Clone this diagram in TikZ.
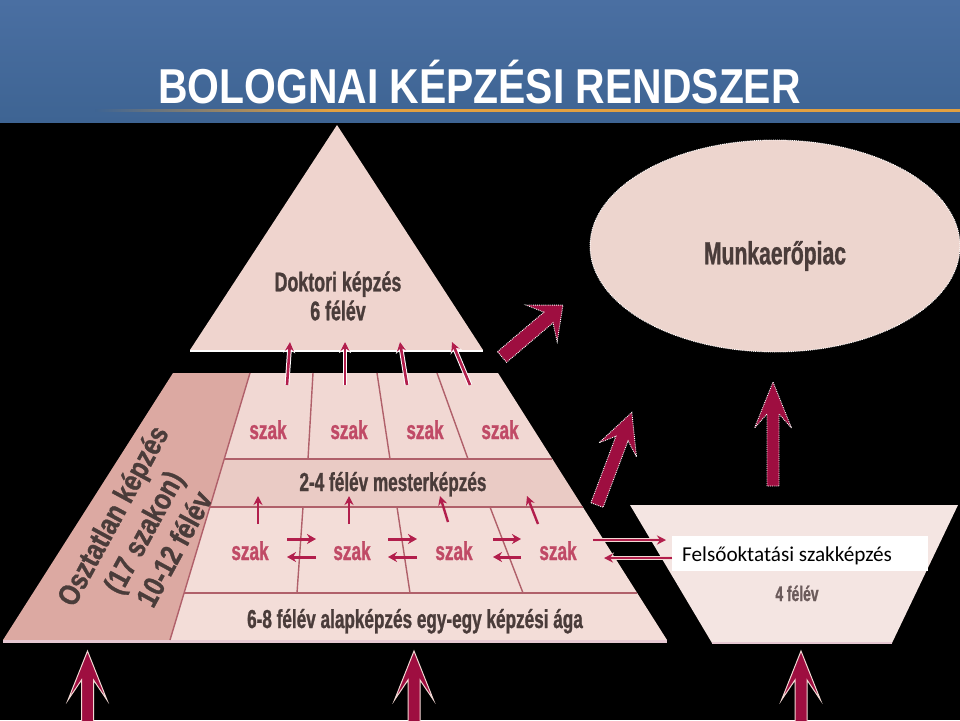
\documentclass[tikz,border=0pt]{standalone}
\usepackage{fontspec}
\setmainfont{Liberation Sans}
\newfontfamily\condf[FakeStretch=0.66, FakeBold=1]{Liberation Sans}
\newfontfamily\condo[FakeStretch=0.82, FakeBold=1]{Liberation Sans}
\newfontfamily\titlef[FakeStretch=0.834]{Liberation Sans}
\newfontfamily\calibf{Carlito}
\usetikzlibrary{shapes.geometric, arrows.meta}
\definecolor{bandtop}{HTML}{4A6FA2}
\definecolor{bandbot}{HTML}{3E6493}
\definecolor{orangeln}{HTML}{E2A040}
\definecolor{pinkL}{HTML}{F1D8D3}
\definecolor{pinkM}{HTML}{EACBC5}
\definecolor{pinkA}{HTML}{F3DDD8}
\definecolor{pinkBand}{HTML}{DCA9A2}
\definecolor{pinkTri}{HTML}{EFD4CE}
\definecolor{pinkEll}{HTML}{EDD5CE}
\definecolor{pinkTrap}{HTML}{F4E5E2}
\definecolor{divln}{HTML}{B0606A}
\definecolor{darktxt}{HTML}{4A3C3A}
\definecolor{greytxt}{HTML}{6B5B5B}
\definecolor{szaktxt}{HTML}{C04A66}
\definecolor{crim}{HTML}{9E0E40}
\definecolor{crimB}{HTML}{B21E4C}
\definecolor{edgeln}{HTML}{E6C8D2}
% #1 name, #2 tail, #3 angle, #4 length, #5 head length, #6 head half width, #7 shaft half width, #8 notch, #9 style
\newcommand\blockarr[9]{%
  \begin{scope}[shift={#2}, rotate=#3]
    \coordinate (#1-tail) at (0,0);
    \coordinate (#1-tip) at (#4,0);
    \filldraw[#9] (0,-#7) -- ({#4-#5+#8},-#7) -- ({#4-#5},-#6) -- (#4,0)
      -- ({#4-#5},#6) -- ({#4-#5+#8},#7) -- (0,#7) -- cycle;
  \end{scope}}
\begin{document}
\begin{tikzpicture}[x=1pt, y=-1pt,
  lbl/.style={font=\condf\bfseries\fontsize{27}{29}\selectfont, text=darktxt, align=center, inner sep=0},
  szaklbl/.style={font=\condf\bfseries\fontsize{26}{26}\selectfont, text=szaktxt, inner sep=0, anchor=base},
  divline/.style={draw=divln, line width=1.4},
  bigarr/.style={fill=crim, draw=white, densely dotted, line width=0.9},
  botarr/.style={fill=crim, draw=pinkL, line width=1},
  uparr/.style={draw=crimB, line width=2.6, -{Stealth[length=9, width=9]},
    preaction={draw=white, line width=4.6, -{Stealth[length=11, width=12]}}},
  smallarr/.style={draw=crimB, line width=2.4, -{Stealth[length=9, width=9]}},
  pairarr/.style={draw=crimB, line width=3, -{Stealth[length=9, width=10]}},
  longarr/.style={draw=crimB, line width=2.6, -{Stealth[length=9, width=9]},
    preaction={draw=pinkL, line width=4.2, -{Stealth[length=10, width=11]}}}
]
\useasboundingbox (0,0) rectangle (960,720);
% background
\fill[black] (0,0) rectangle (960,720);
\shade[top color=bandtop, bottom color=bandbot] (0,0) rectangle (960,122);
\shade[left color=bandbot, right color=orangeln] (95,109) rectangle (330,111.5);
\fill[orangeln] (330,109) rectangle (960,111.5);
\node[anchor=base west, inner sep=0, text=white,
  font=\titlef\bfseries\fontsize{49}{49}\selectfont] (title) at (158,103) {BOLOGNAI KÉPZÉSI RENDSZER};

% doctoral triangle
\fill[pinkTri] (337,125) -- (483,350) -- (190,350) -- cycle;
\draw[white, line width=2] (190,351) -- (483,351);
\node[lbl] (dokt) at (338,296) {Doktori képzés\\6 félév};

% lower pyramid rows
\fill[pinkL] (250,373) -- (498,373) -- (552.4,459) -- (224.2,459) -- cycle;
\fill[pinkM] (224.2,459) -- (552.4,459) -- (582.8,507) -- (209.9,507) -- cycle;
\fill[pinkA] (209.9,507) -- (582.8,507) -- (637.2,593) -- (184.1,593) -- cycle;
\fill[pinkA] (184.1,593) -- (637.2,593) -- (667,640) -- (170,640) -- cycle;
\fill[pinkBand] (173,373) -- (250,373) -- (170,640) -- (3,640) -- cycle;
\draw[edgeln, line width=3] (3,641.5) -- (667,641.5);
\draw[divline] (250,373) -- (170,640);
\draw[divline] (224.2,459) -- (552.4,459);
\draw[divline] (209.9,507) -- (582.8,507);
\draw[divline] (184.1,593) -- (637.2,593);
\draw[divline] (313,373) -- (308,459);
\draw[divline] (377,373) -- (390,459);
\draw[divline] (437,373) -- (468,459);
\draw[divline] (303,507) -- (297,593);
\draw[divline] (397,507) -- (410,593);
\draw[divline] (490,507) -- (523,593);

\node[szaklbl] (s1) at (268,439) {szak};
\node[szaklbl] (s2) at (349,439) {szak};
\node[szaklbl] (s3) at (425,439) {szak};
\node[szaklbl] (s4) at (500,439) {szak};
\node[lbl, font=\condf\bfseries\fontsize{26}{26}\selectfont, anchor=base] (mester) at (393,491) {2-4 félév mesterképzés};
\node[szaklbl] (b1) at (250,560) {szak};
\node[szaklbl] (b2) at (352,560) {szak};
\node[szaklbl] (b3) at (454,560) {szak};
\node[szaklbl] (b4) at (558,560) {szak};
\node[lbl, font=\condf\bfseries\fontsize{26}{26}\selectfont, anchor=base] (alap) at (415,628) {6-8 félév alapképzés egy-egy képzési ága};
\node[lbl, font=\condo\bfseries\fontsize{30}{35}\selectfont, rotate=61.5] (oszt) at (143,532) {Osztatlan képzés\\(17 szakon)\\10-12 félév};

% small arrows inside the pyramid
\coordinate (ua1) at (258,524); \coordinate (ub1) at (258,496);
\coordinate (ua2) at (349,524); \coordinate (ub2) at (349,496);
\coordinate (ua3) at (448,522); \coordinate (ub3) at (440,496);
\coordinate (ua4) at (538,524); \coordinate (ub4) at (527,496);
\foreach \i in {1,...,4} \draw[smallarr] (ua\i) -- (ub\i);
\coordinate (pa1) at (287,539); \coordinate (pb1) at (316,539);
\coordinate (pa2) at (388,539); \coordinate (pb2) at (417,539);
\coordinate (pa3) at (493,539); \coordinate (pb3) at (521,539);
\foreach \i in {1,2,3} {
  \draw[pairarr] (pa\i) -- (pb\i);
  \draw[pairarr] ([yshift=-18pt]pb\i) -- ([yshift=-18pt]pa\i);
}
% arrows into the doctoral level
\coordinate (da1) at (287,385); \coordinate (db1) at (290,342);
\coordinate (da2) at (345,385); \coordinate (db2) at (345,342);
\coordinate (da3) at (407,385); \coordinate (db3) at (400,342);
\coordinate (da4) at (470,385); \coordinate (db4) at (452,342);
\foreach \i in {1,...,4} \draw[uparr] (da\i) -- (db\i);

% labour market
\node[ellipse, fill=pinkEll, draw=white, densely dotted, line width=0.9,
  minimum width=370, minimum height=212, inner sep=0] (munka) at (775,246) {};
\node[lbl, font=\condf\bfseries\fontsize{32}{32}\selectfont] (munkat) at (775,256) {Munkaerőpiac};

% higher vocational trapezoid
\fill[pinkTrap] (630,505) -- (958,505) -- (892,643) -- (712,643) -- cycle;
\draw[edgeln, line width=2] (712,643) -- (892,643);
\fill[white] (672,536) rectangle (928,571);
\node[anchor=base west, inner sep=0, text=black, font=\calibf\fontsize{21.2}{21.2}\selectfont] (felso) at (682,561) {Felsőoktatási szakképzés};
\node[lbl, text=greytxt, font=\condf\bfseries\fontsize{21}{21}\selectfont, anchor=base] (negy) at (797,601) {4 félév};

% long pair between pyramid and trapezoid
\coordinate (la) at (593,540); \coordinate (lb) at (666,540);
\coordinate (lc) at (672,558); \coordinate (ld) at (604,558);
\draw[longarr] (la) -- (lb);
\draw[longarr] (lc) -- (ld);

% big block arrows
\blockarr{ba1}{(502,357)}{40.4}{80}{28}{24}{7}{9}{bigarr}
\blockarr{ba2}{(597,505)}{69.4}{99}{40}{20}{6.5}{12}{bigarr}
\blockarr{ba3}{(773,486)}{90}{104}{46}{18.5}{6}{14}{bigarr}
\blockarr{bb1}{(87.5,726)}{90}{75}{49}{19.5}{6}{20}{botarr}
\blockarr{bb2}{(414,726)}{90}{75}{49}{19.5}{6}{20}{botarr}
\blockarr{bb3}{(801,726)}{90}{75}{49}{19.5}{6}{20}{botarr}
\end{tikzpicture}
\end{document}
